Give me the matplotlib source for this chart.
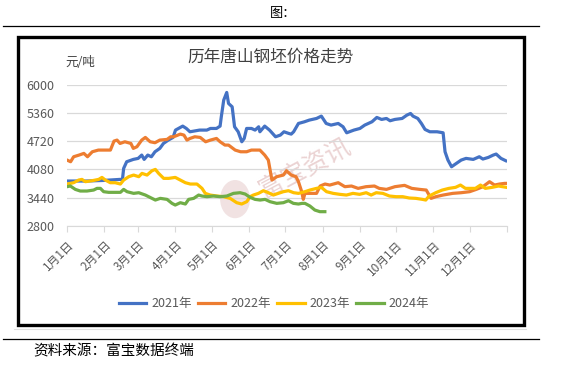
import matplotlib
matplotlib.use("Agg")
import matplotlib.pyplot as plt
from matplotlib.patches import Ellipse
from matplotlib.lines import Line2D
from matplotlib.patches import Rectangle

plt.rcParams['font.family'] = ['Noto Sans CJK SC', 'DejaVu Sans']

# day of year -> price (元/吨)
days_2021 = [0, 16, 30, 44, 46, 47, 49.5, 55, 59, 62, 64, 67, 70, 73, 77, 80, 84, 88, 90, 96,
             99, 102, 110, 116, 119, 124, 127, 128, 130, 132.5, 134, 137, 139, 142, 145, 147,
             149, 153, 156, 159, 160, 164, 168, 173, 177, 180, 184, 186, 188, 192, 197, 201,
             207, 211, 215, 219, 225, 229, 232, 238, 243, 247, 253, 257, 261, 265, 268, 272,
             278, 282, 285, 287, 291, 294, 297, 301, 307, 312, 313.6, 316, 319, 323, 327, 331,
             337, 342, 345, 349.5, 353.6, 356, 360, 364]
price_2021 = [3817, 3817, 3830, 3854, 3854, 4103, 4253, 4306, 4329, 4404, 4306, 4404, 4366, 4479,
              4555, 4667, 4743, 4803, 4969, 5059, 5006, 4931, 4969, 4969, 5006, 5006, 5059, 5270,
              5646, 5820, 5571, 5496, 5044, 4931, 4705, 4780, 5006, 5006, 4969, 5044, 4931, 5059,
              4969, 4818, 4856, 4931, 4893, 4878, 4931, 5119, 5157, 5195, 5232, 5285, 5119, 5082,
              5119, 5044, 4908, 4969, 5006, 5082, 5157, 5255, 5210, 5232, 5180, 5210, 5232, 5308,
              5345, 5285, 5232, 5119, 4984, 4931, 4931, 4908, 4479, 4291, 4140, 4216, 4291, 4329,
              4306, 4366, 4314, 4351, 4404, 4427, 4329, 4276]

days_2022 = [0, 3, 5.5, 10, 14, 17, 21, 26, 36, 39, 41.5, 44, 48, 53, 55, 58, 62, 65, 69, 73, 77,
             83, 86, 88.5, 94, 97, 99.5, 102, 106, 110.5, 115, 119, 124, 127, 131, 134, 139.5,
             144, 149, 153, 160, 164, 167, 170, 174, 179.5, 182, 186, 190, 192, 194.7, 196,
             197.4, 207, 210, 214, 218, 225, 230.5, 236, 241.5, 248, 255, 259, 265, 272, 280,
             286, 292.6, 298, 302, 306, 312, 320, 327, 334, 339.5, 345, 350.5, 354.7, 358.8,
             363, 364.5]
price_2022 = [4291, 4253, 4366, 4404, 4442, 4366, 4479, 4517, 4517, 4720, 4743, 4667, 4705, 4667,
              4555, 4592, 4743, 4803, 4705, 4683, 4743, 4758, 4818, 4818, 4878, 4856, 4743, 4780,
              4818, 4803, 4705, 4743, 4780, 4705, 4630, 4630, 4517, 4479, 4479, 4517, 4517, 4404,
              4291, 3839, 3915, 3952, 4050, 3952, 3915, 3802, 3576, 3402, 3538, 3538, 3704, 3749,
              3726, 3779, 3689, 3704, 3651, 3689, 3704, 3651, 3628, 3689, 3719, 3651, 3628, 3613,
              3425, 3463, 3500, 3538, 3553, 3576, 3628, 3689, 3802, 3726, 3749, 3764, 3764]

days_2023 = [0, 5.5, 9.7, 12.4, 15.2, 20.7, 26.3, 29, 31.8, 35.9, 40, 44.3, 47, 51.2, 55.3, 59.5,
             62.2, 66.4, 70.5, 73.3, 76, 80.2, 84.3, 89.8, 94, 98.2, 102.3, 107.8, 112, 114.7,
             118.8, 124.3, 129.8, 135.3, 140.8, 144.9, 149.1, 151.9, 154.6, 158.8, 162.9, 167.1,
             171.2, 175.3, 179.5, 183.7, 188, 192, 197.4, 201.5, 207, 211, 215.3, 220.8, 226.3,
             231.8, 237.2, 242.7, 248.2, 252.3, 256.5, 262, 267.5, 273, 278.5, 283.9, 289.4,
             294.9, 297.6, 300.4, 305.9, 311.3, 316.8, 322.3, 326.4, 330.5, 334.7, 338.8, 343,
             347, 352.6, 358, 364.5]
price_2023 = [3749, 3779, 3839, 3854, 3802, 3824, 3854, 3899, 3839, 3779, 3779, 3749, 3839, 3915,
              3952, 3915, 3990, 3952, 4050, 4080, 3990, 3877, 3877, 3899, 3839, 3779, 3749, 3749,
              3651, 3538, 3500, 3478, 3463, 3425, 3327, 3297, 3350, 3463, 3500, 3538, 3598, 3553,
              3500, 3538, 3576, 3598, 3553, 3538, 3576, 3613, 3651, 3674, 3576, 3538, 3516, 3500,
              3538, 3516, 3553, 3500, 3553, 3538, 3478, 3463, 3463, 3433, 3425, 3402, 3387, 3478,
              3553, 3613, 3651, 3674, 3726, 3651, 3651, 3651, 3726, 3651, 3674, 3704, 3674]

days_2024 = [0, 2.8, 6.9, 11, 16.6, 22.1, 24.9, 27.7, 30.4, 34.6, 40.1, 44.3, 47, 49.8, 55.3,
             59.5, 65, 70.5, 73.3, 77.4, 83, 87.1, 89.8, 94, 98.2, 100.9, 105.1, 109.2, 112,
             116.1, 121.6, 127.1, 132.6, 138.1, 143.6, 147.8, 151.9, 156, 160.2, 164.3, 168.4,
             174, 179.5, 183.7, 187.8, 192, 195, 197.4, 201.5, 205.6, 209.8, 213.9]
price_2024 = [3689, 3704, 3628, 3591, 3591, 3613, 3651, 3651, 3576, 3561, 3561, 3561, 3628, 3576,
              3538, 3553, 3500, 3425, 3387, 3425, 3402, 3312, 3274, 3327, 3297, 3402, 3425, 3500,
              3478, 3463, 3478, 3463, 3478, 3538, 3553, 3523, 3448, 3402, 3387, 3402, 3350, 3312,
              3327, 3372, 3312, 3297, 3312, 3312, 3252, 3161, 3124, 3124]

month_days = [0, 31, 59, 90, 120, 151, 181, 212, 243, 273, 304, 334, 365]
month_labels = [f"{m}月1日" for m in range(1, 13)] + [""]
y_ticks = [2800, 3440, 4080, 4720, 5360, 6000]

series = [
    ("2021年", days_2021, price_2021, "#4472C4"),
    ("2022年", days_2022, price_2022, "#ED7D31"),
    ("2023年", days_2023, price_2023, "#FFC000"),
    ("2024年", days_2024, price_2024, "#70AD47"),
]

W, H = 576, 365
fig = plt.figure(figsize=(W / 100, H / 100), dpi=100)

def fx(px):
    return px / W

def fy(py):
    return 1 - py / H

# page decoration
fig.add_artist(Line2D([fx(3), fx(539)], [fy(26), fy(26)], color="black", lw=0.9))
fig.add_artist(Line2D([fx(3), fx(539)], [fy(339), fy(339)], color="black", lw=0.9))
fig.add_artist(Line2D([fx(14), fx(526)], [fy(329), fy(329)], color="#E0E0E0", lw=0.8))
fig.add_artist(Rectangle((fx(18), fy(325)), fx(524) - fx(18), fy(37) - fy(325),
                         fill=False, edgecolor="black", lw=2.4))
fig.text(fx(283), fy(13), "图：", ha="center", va="center", fontsize=9.5, color="black")
fig.text(fx(33), fy(351), "资料来源：富宝数据终端", ha="left", va="center", fontsize=10.5, color="black")

ax = fig.add_axes([fx(67), fy(226), fx(507) - fx(67), fy(84.5) - fy(226)])

# watermark
ax.add_patch(Ellipse((0.382, 0.19), 0.068, 0.27, transform=ax.transAxes,
                     color="#E8CFCF", alpha=0.6, zorder=0, lw=0))
ax.text(0.54, 0.41, "富宝资讯", transform=ax.transAxes, rotation=28, ha="center", va="center",
        fontsize=18, color="#E6C8C8", alpha=0.8, zorder=0)

for name, d, p, c in series:
    ax.plot(d, p, color=c, lw=2.3, label=name, solid_joinstyle="round", zorder=3)

ax.set_xlim(0, 365)
ax.set_ylim(2800, 6000)
ax.set_yticks(y_ticks)
ax.set_xticks(month_days)
ax.set_xticklabels(month_labels, rotation=45, ha="right", rotation_mode="anchor")
ax.yaxis.grid(True, color="#D9D9D9", lw=0.9)
ax.set_axisbelow(True)
for s in ["top", "right", "left"]:
    ax.spines[s].set_visible(False)
ax.spines["bottom"].set_color("#D9D9D9")
ax.tick_params(axis="y", length=0, pad=9, labelsize=9, labelcolor="#595959")
ax.tick_params(axis="x", length=4, color="#D9D9D9", pad=5, labelsize=8.5, labelcolor="#595959")

fig.text(fx(65), fy(62), "元/吨", ha="left", va="center", fontsize=9, color="#404040")
fig.text(fx(271), fy(57), "历年唐山钢坯价格走势", ha="center", va="center", fontsize=12, color="#404040")

fig.legend(loc="center", bbox_to_anchor=(fx(274), fy(304)), ncol=4, frameon=False,
           fontsize=9, handlelength=2.2, handletextpad=0.4, columnspacing=0.5,
           labelcolor="#595959")

fig.savefig("out.png", dpi=100)
